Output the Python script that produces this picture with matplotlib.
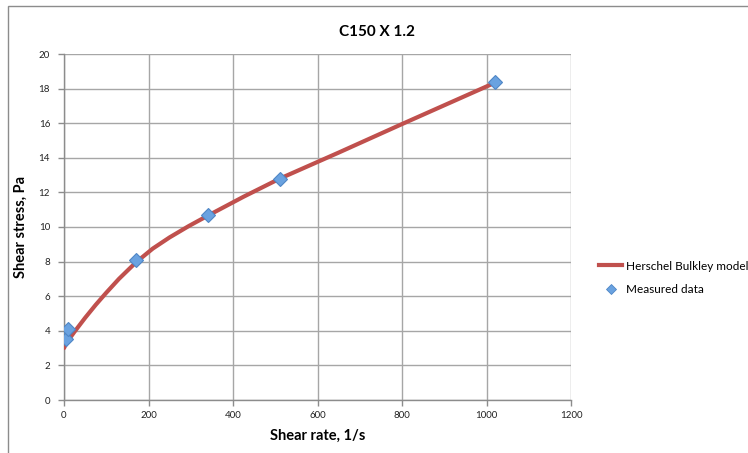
import matplotlib
matplotlib.use("Agg")
import matplotlib.pyplot as plt
from matplotlib.patches import Rectangle
from matplotlib.lines import Line2D

plt.rcParams['font.family'] = ['Lato', 'DejaVu Sans']

# Measured rheometer readings
shear_rate_measured = [5.1, 10.2, 170, 340, 511, 1021]
shear_stress_measured = [3.5, 4.1, 8.1, 10.7, 12.75, 18.4]

# Herschel-Bulkley model curve
shear_rate_model = [0, 5.1, 10.2, 25, 50, 75, 100, 130, 170, 210, 250, 295,
                    340, 425, 511, 650, 800, 1021]
shear_stress_model = [3.0, 3.25, 3.45, 3.95, 4.75, 5.5, 6.2, 7.0, 7.95, 8.75,
                      9.4, 10.05, 10.65, 11.75, 12.8, 14.3, 15.95, 18.35]

x_ticks = [0, 200, 400, 600, 800, 1000, 1200]
y_ticks = [0, 2, 4, 6, 8, 10, 12, 14, 16, 18, 20]

W, H = 748, 453
fig = plt.figure(figsize=(W / 100, H / 100), dpi=100)

# chart frame
fig.patches.append(Rectangle((8 / W, 0 - 0.05), 1.2, 1 - 6 / H + 0.05,
                             transform=fig.transFigure, fill=False,
                             edgecolor='#8c8c8c', lw=1.0))

ax = fig.add_axes([64 / W, 1 - 400 / H, (571 - 64) / W, (400 - 54) / H])
ax.set_xlim(0, 1200)
ax.set_ylim(0, 20)
ax.set_xticks(x_ticks)
ax.set_yticks(y_ticks)
ax.grid(True, color='#a6a6a6', lw=1.0)
ax.set_axisbelow(True)
for side in ['top', 'right']:
    ax.spines[side].set_visible(False)
for side in ['left', 'bottom']:
    ax.spines[side].set_color('#8c8c8c')
    ax.spines[side].set_linewidth(1.0)
ax.tick_params(axis='both', colors='#8c8c8c', labelcolor='#222222',
               labelsize=7, length=4, width=1.0, direction='out')
ax.tick_params(axis='y', pad=6)
ax.tick_params(axis='x', pad=4)

ax.plot(shear_rate_model, shear_stress_model, color='#c0504d', lw=3.0,
        solid_capstyle='round', solid_joinstyle='round', zorder=3)
ax.plot(shear_rate_measured, shear_stress_measured, linestyle='none',
        marker='D', markersize=7.5, markerfacecolor='#6aa2e0',
        markeredgecolor='#4f86c6', markeredgewidth=0.8, zorder=4)

ax.set_xlabel('Shear rate, 1/s', fontsize=10.5, fontweight='bold', labelpad=6)
ax.set_ylabel('Shear stress, Pa', fontsize=10.5, fontweight='bold', labelpad=8)
fig.text(377 / W, 1 - 32 / H, 'C150 X 1.2', fontsize=11, fontweight='bold',
         ha='center', va='center')

handles = [
    Line2D([], [], color='#c0504d', lw=3.0),
    Line2D([], [], linestyle='none', marker='D', markersize=5,
           markerfacecolor='#6aa2e0', markeredgecolor='#4f86c6', markeredgewidth=0.6),
]
fig.legend(handles, ['Herschel Bulkley model', 'Measured data'],
           loc='center left', bbox_to_anchor=(594 / W, 1 - 278 / H),
           frameon=False, fontsize=8.5, handlelength=2.0, handletextpad=0.3,
           labelspacing=1.1, borderaxespad=0)

fig.savefig('out.png', dpi=100)
